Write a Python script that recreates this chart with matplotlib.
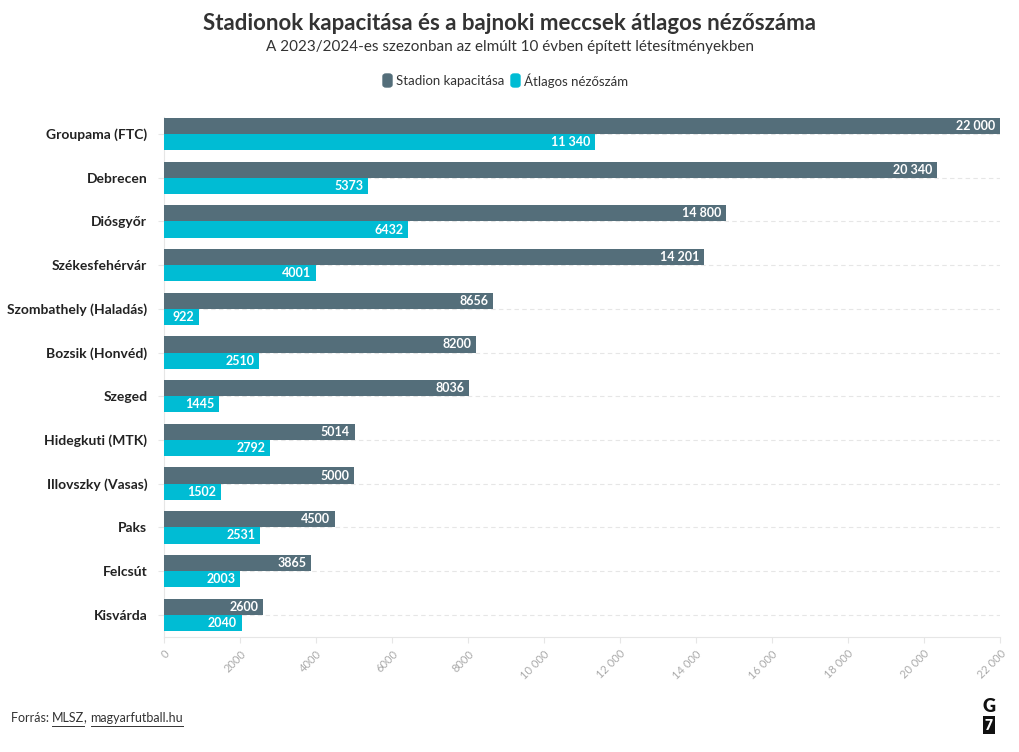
import numpy as np
import matplotlib
matplotlib.use('Agg')
import matplotlib.pyplot as plt
from matplotlib.patches import FancyBboxPatch

plt.rcParams['font.family'] = ['Lato', 'DejaVu Sans']

stadiums = ['Groupama (FTC)', 'Debrecen', 'Diósgyőr', 'Székesfehérvár',
            'Szombathely (Haladás)', 'Bozsik (Honvéd)', 'Szeged',
            'Hidegkuti (MTK)', 'Illovszky (Vasas)', 'Paks', 'Felcsút', 'Kisvárda']
capacity = [22000, 20340, 14800, 14201, 8656, 8200, 8036, 5014, 5000, 4500, 3865, 2600]
attendance = [11340, 5373, 6432, 4001, 922, 2510, 1445, 2792, 1502, 2531, 2003, 2040]
xticks = list(range(0, 22001, 2000))

c_dark = '#546e7a'
c_light = '#00bcd4'


def fmt(v):
    if v >= 10000:
        return '{:,}'.format(v).replace(',', ' ')
    return str(v)


fig = plt.figure(figsize=(10.2, 7.52), dpi=100)
ax = fig.add_axes([0.1608, 0.1529, 0.8196, 0.6915])

y = np.arange(len(stadiums))
h = 0.37
ax.barh(y - h / 2, capacity, height=h, color=c_dark, zorder=3)
ax.barh(y + h / 2, attendance, height=h, color=c_light, zorder=3)

for i in range(len(stadiums)):
    ax.text(capacity[i] - 120, y[i] - h / 2, fmt(capacity[i]), ha='right', va='center',
            color='white', fontsize=9, fontweight='bold', zorder=4)
    ax.text(attendance[i] - 120, y[i] + h / 2, fmt(attendance[i]), ha='right', va='center',
            color='white', fontsize=9, fontweight='bold', zorder=4)

for yy in y:
    ax.axhline(yy, color='#e6e6e6', lw=0.8, ls=(0, (4, 3)), zorder=1)

ax.set_xlim(0, 22000)
ax.set_ylim(11.51, -0.39)
ax.set_yticks(y)
ax.set_yticklabels(stadiums, fontsize=10, fontweight='bold', color='#222222')
ax.set_xticks(xticks)
ax.set_xticklabels([fmt(v) for v in xticks], rotation=45, ha='right', rotation_mode='anchor',
                   fontsize=8, color='#aaaaaa')
ax.tick_params(axis='y', length=4, color='#e6e6e6', pad=8)
ax.tick_params(axis='x', length=4, color='#e6e6e6', pad=4)
for s in ['top', 'right']:
    ax.spines[s].set_visible(False)
ax.spines['left'].set_color('#e6e6e6')
ax.spines['bottom'].set_color('#e6e6e6')

fig.text(0.5, 1 - 24 / 752, 'Stadionok kapacitása és a bajnoki meccsek átlagos nézőszáma',
         ha='center', va='center', fontsize=16, fontweight='bold', color='#333333')
fig.text(0.5, 1 - 47 / 752, 'A 2023/2024-es szezonban az elmúlt 10 évben épített létesítményekben',
         ha='center', va='center', fontsize=11, color='#333333')

# legend
leg_y = 1 - 81 / 752
items = [('Stadion kapacitása', c_dark, 383), ('Átlagos nézőszám', c_light, 511)]
for label, col, px in items:
    fig.patches.append(FancyBboxPatch((px / 1020, leg_y - 6 / 752), 9 / 1020, 13 / 752,
                                      boxstyle='round,pad=0,rounding_size=0.003',
                                      transform=fig.transFigure, color=col))
    fig.text((px + 13) / 1020, leg_y, label, ha='left', va='center', fontsize=9.5, color='#333333')

# source line, pieces laid out one after another
renderer = fig.canvas.get_renderer()
x_px = 11
src_y = 1 - 718 / 752
for part, underline in [('Forrás: ', False), ('MLSZ', True), (', ', False), ('magyarfutball.hu', True)]:
    t = fig.text(x_px / 1020, src_y, part, ha='left', va='center', fontsize=9, color='#333333')
    w = t.get_window_extent(renderer).width
    if underline:
        fig.add_artist(plt.Line2D([x_px / 1020, (x_px + w) / 1020], [1 - 726 / 752] * 2,
                                  color='#333333', lw=0.7))
    x_px += w

# G7 logo
fig.text(989 / 1020, 1 - 707 / 752, 'G', ha='center', va='center', fontsize=13,
         fontweight='heavy', color='#111111')
fig.text(989 / 1020, 1 - 725 / 752, '7', ha='center', va='center', fontsize=10,
         fontweight='heavy', color='white',
         bbox=dict(boxstyle='square,pad=0.15', fc='#111111', ec='none'))

fig.savefig('out.png', dpi=100, facecolor='white')
